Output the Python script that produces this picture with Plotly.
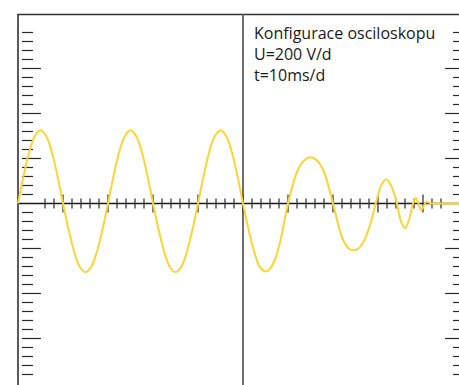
import plotly.graph_objects as go

# Oscilloscope trace: time in ms, voltage in V
t_ms = [0, 1.25, 2.5, 3.75, 5, 6.25, 7.5, 8.75, 10, 11.25, 12.5, 13.75, 15, 16.25, 17.5, 18.75,
        20, 21.25, 22.5, 23.75, 25, 26.25, 27.5, 28.75, 30, 31.25, 32.5, 33.75, 35, 36.25, 37.5, 38.75,
        40, 41.25, 42.5, 43.75, 45, 46.25, 47.5, 48.75, 50,
        51.25, 52.5, 53.75, 55, 56.5, 58, 60, 62, 63.5, 65, 66.5, 68, 70, 72, 73.5, 75, 76.5, 78,
        79.5, 80.7, 81.8, 82.9, 84.2, 85.1, 86, 86.9, 87.8, 88.4, 89.0, 89.6, 90.2, 90.8, 91.5, 92, 94, 98]
u_volts = [0, 124, 230, 300, 325, 300, 230, 124, 0, -117, -216, -282, -305, -282, -216, -117,
           0, 124, 230, 300, 325, 300, 230, 124, 0, -117, -216, -282, -305, -282, -216, -117,
           0, 124, 230, 300, 325, 300, 230, 124, 0,
           -117, -216, -282, -302, -275, -190, 0, 140, 190, 205, 190, 140, 0, -150, -200, -207, -180, -110,
           0, 80, 108, 80, 0, -80, -110, -70, 0, 24, 0, -29, -10, 8, 2, 0, 0, 0]

# Graticule ticks
vert_ticks = [v for v in range(-760, 761, 40) if v != 0]
horiz_ticks = list(range(6, 95, 2))

# Screen settings
TIME_DIV = 10     # ms per division
VOLT_DIV = 200    # V per division
X_RANGE = [-4, 98]
Y_RANGE = [-806.7, 904.4]
FRAME_TOP = 840

def seg_trace(xs, ys, color, width):
    return go.Scatter(x=xs, y=ys, mode="lines", line=dict(color=color, width=width),
                      hoverinfo="skip", showlegend=False)

fig = go.Figure()

# Side graticule marks (left and mirrored right)
lx, ly, rx, ry = [], [], [], []
for v in vert_ticks:
    major = v % VOLT_DIV == 0
    end = 5.1 if major else 3.33
    lx += [0.89, end, None]
    ly += [v, v, None]
    rx += [100 - 0.89, 100 - end, None]
    ry += [v, v, None]
fig.add_trace(seg_trace(lx, ly, "#2a2a2a", 1.2))
fig.add_trace(seg_trace(rx, ry, "#2a2a2a", 1.2))

# Frame and centre line
fig.add_trace(seg_trace([X_RANGE[1], 0, 0], [FRAME_TOP, FRAME_TOP, Y_RANGE[0]], "#333333", 1.6))
fig.add_trace(seg_trace([50, 50], [FRAME_TOP, Y_RANGE[0]], "#6e6e6e", 2))

# Horizontal axis and its ticks
fig.add_trace(seg_trace([0, X_RANGE[1]], [0, 0], "#1a1a1a", 1.5))
hx, hy = [], []
for t in horiz_ticks:
    half = 40 if t % TIME_DIV == 0 else 22
    hx += [t, t, None]
    hy += [-half, half, None]
fig.add_trace(seg_trace(hx, hy, "#3a3a3a", 1.3))

# Signal
fig.add_trace(go.Scatter(x=t_ms, y=u_volts, mode="lines",
                         line=dict(color="#FBD535", width=2, shape="spline", smoothing=1.0),
                         hoverinfo="skip", showlegend=False))

labels = ["Konfigurace osciloskopu", "U=200 V/d", "t=10ms/d"]
label_y = [698, 605, 512]
for txt, yy in zip(labels, label_y):
    fig.add_annotation(x=52.0, y=yy, text=txt, showarrow=False, xanchor="left", yanchor="bottom",
                       font=dict(family="Open Sans", size=16, color="#1a1a1a"))

fig.update_layout(width=459, height=385, margin=dict(l=0, r=0, t=0, b=0),
                  paper_bgcolor="white", plot_bgcolor="white",
                  xaxis=dict(range=X_RANGE, visible=False, fixedrange=True),
                  yaxis=dict(range=Y_RANGE, visible=False, fixedrange=True))

fig.write_html("out.html")
